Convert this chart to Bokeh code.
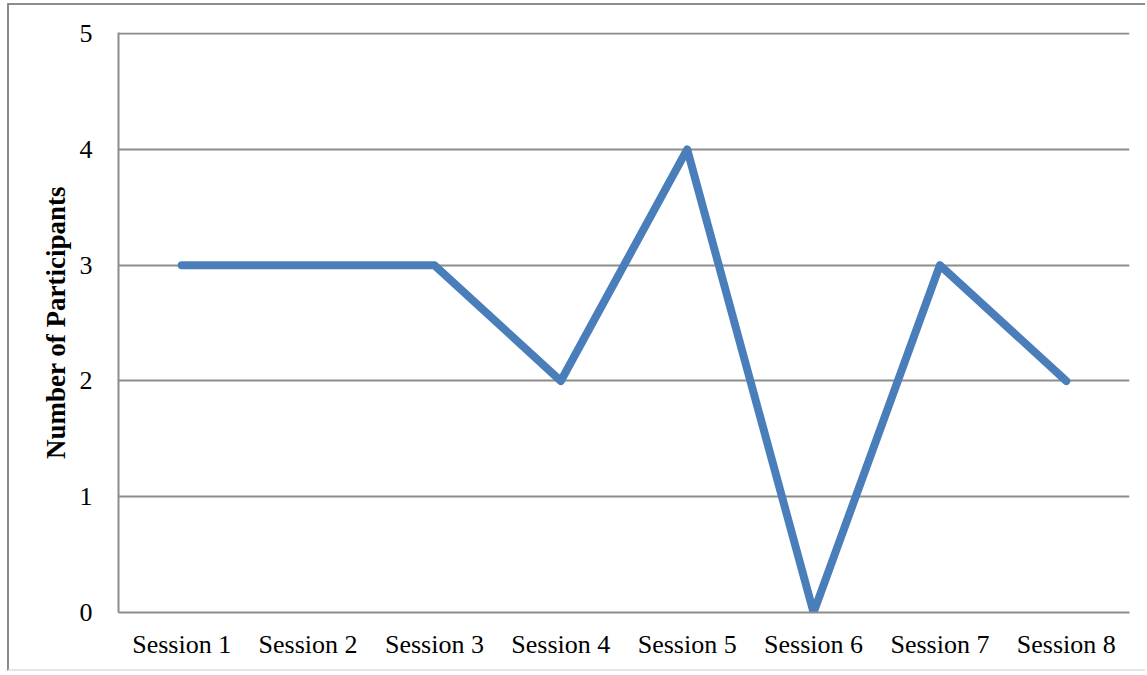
from bokeh.plotting import figure
from bokeh.models import FactorRange, Range1d, FixedTicker
from bokeh.embed import file_html
from bokeh.resources import INLINE

sessions = ["Session 1", "Session 2", "Session 3", "Session 4",
            "Session 5", "Session 6", "Session 7", "Session 8"]
participants = [3, 3, 3, 2, 4, 0, 3, 2]
y_ticks = [0, 1, 2, 3, 4, 5]

GRID = "#8c8c8c"
FONT = "Liberation Serif"

p = figure(
    x_range=FactorRange(*sessions, range_padding=0),
    y_range=Range1d(0, 5.01),
    width=1138, height=668,
    output_backend="svg", toolbar_location=None,
    min_border_left=109, min_border_right=18,
    min_border_top=27, min_border_bottom=61,
)
p.styles = {"margin-left": "7px", "margin-top": "3px",
            "border-left": "2px solid #8c8c8c",
            "border-top": "2px solid #8c8c8c",
            "border-bottom": "2px solid #e6e6e6"}

p.outline_line_color = None
p.background_fill_color = "white"
p.border_fill_color = "white"

p.line(sessions, participants, line_color="#4a7ebb", line_width=8,
       line_join="round", line_cap="round")

p.xgrid.grid_line_color = None
p.ygrid.grid_line_color = GRID
p.ygrid.grid_line_width = 2
p.yaxis.ticker = FixedTicker(ticks=y_ticks)

for ax in (p.xaxis[0], p.yaxis[0]):
    ax.axis_line_color = GRID
    ax.axis_line_width = 2
    ax.major_tick_line_color = None
    ax.minor_tick_line_color = None
    ax.major_tick_out = 0
    ax.major_tick_in = 0
    ax.major_label_text_font = FONT
    ax.major_label_text_font_size = "26px"
    ax.major_label_text_color = "black"

p.yaxis.major_label_standoff = 26
p.xaxis.major_label_standoff = 17
p.yaxis.axis_label = "Number of Participants"
p.yaxis.axis_label_text_font = FONT
p.yaxis.axis_label_text_font_style = "bold"
p.yaxis.axis_label_text_font_size = "27px"
p.yaxis.axis_label_text_color = "black"
p.yaxis.axis_label_standoff = 6

open("out.html", "w").write(file_html(p, INLINE))
